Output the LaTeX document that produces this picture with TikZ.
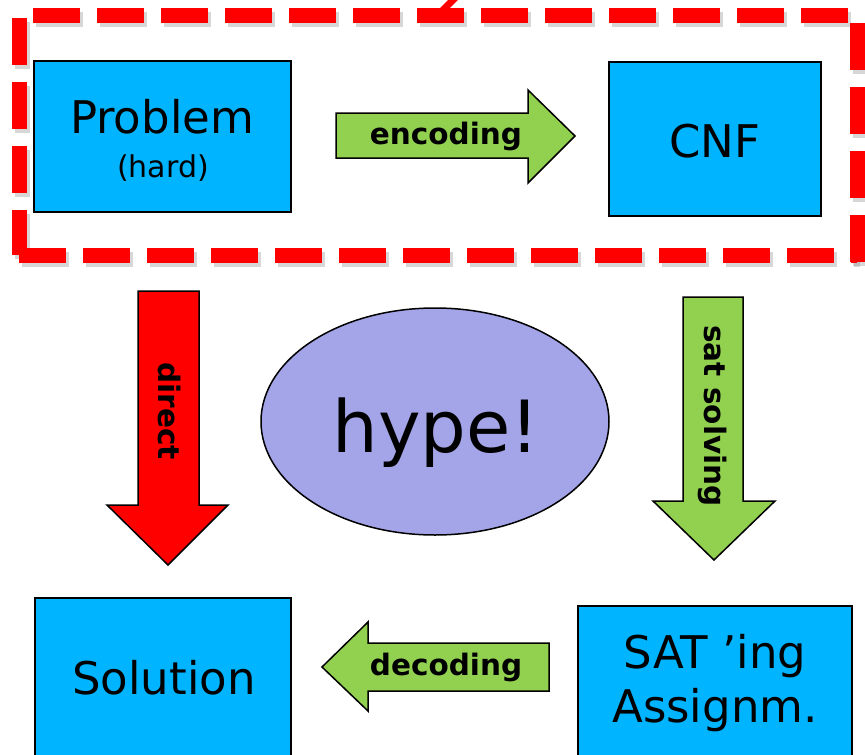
\documentclass[tikz,border=0pt]{standalone}
\usepackage{fontspec}
\setmainfont{DejaVu Sans}
\usetikzlibrary{shapes.geometric}
\definecolor{boxblue}{HTML}{00B4FF}
\definecolor{arrgreen}{HTML}{92D050}
\definecolor{ellcol}{HTML}{A4A4E8}
\tikzset{
  box/.style={draw=black, line width=1.8pt, fill=boxblue, inner sep=0pt},
  txt/.style={inner sep=0pt, font=\fontsize{45}{52}\selectfont},
  lbl/.style={inner sep=0pt, font=\fontsize{29.5}{32}\selectfont\bfseries},
  garrow/.style={draw=black, line width=1.5pt, fill=arrgreen, line join=miter},
  rarrow/.style={draw=black, line width=1.5pt, fill=red, line join=miter},
  reddash/.style={draw=red, line width=15pt, dash pattern=on 47pt off 17pt},
  shadowdash/.style={draw=black!45, opacity=0.35, line width=15pt, dash pattern=on 47pt off 17pt},
}
\begin{document}
\begin{tikzpicture}[x=1pt,y=-1pt]
\useasboundingbox (0,0) rectangle (865,755);
\clip (0,0) rectangle (865,755);
% nodes
\node[box, minimum width=257pt, minimum height=151pt] (problem) at (162.5,136.5) {};
\node[txt, anchor=base] (problemlbl) at (162,133) {Problem};
\node[inner sep=0pt, anchor=base, font=\fontsize{30}{34}\selectfont] (hardlbl) at (163,177) {(hard)};
\node[box, minimum width=212pt, minimum height=154pt] (cnf) at (715,139) {};
\node[txt, anchor=base] (cnflbl) at (715,157) {CNF};
\node[box, minimum width=256pt, minimum height=180pt] (solution) at (163,688) {};
\node[txt, anchor=base] (solutionlbl) at (164,694) {Solution};
\node[box, minimum width=274pt, minimum height=180pt] (sat) at (715,696) {};
\node[txt, anchor=base] (satl1) at (715,668) {SAT ’ing};
\node[txt, anchor=base] (satl2) at (715,722) {Assignm.};
\node[ellipse, draw=black, line width=1.5pt, fill=ellcol, minimum width=348pt, minimum height=227pt, inner sep=0pt] (hype) at (435,421.5) {};
\node[inner sep=0pt, anchor=base, font=\fontsize{72}{80}\selectfont] (hypelbl) at (436,452) {hype!};
% red dashed frame (shadow then frame)
\begin{scope}[shift={(3,4)}]
\draw[shadowdash, dash phase=50pt] (19,15) -- (857,15);
\draw[shadowdash, dash phase=61pt] (19,15) -- (19,255);
\draw[shadowdash, dash phase=0pt] (19,255) -- (857,255);
\draw[shadowdash, dash phase=56pt] (857,15) -- (857,262);
\end{scope}
\draw[reddash, dash phase=50pt] (19,15) -- (857,15);
\draw[reddash, dash phase=61pt] (19,15) -- (19,255);
\draw[reddash, dash phase=0pt] (19,255) -- (857,255);
\draw[reddash, dash phase=56pt] (857,15) -- (857,262);
\draw[red, line width=7pt] (441,12) -- (457,-4);
% arrows
\draw[garrow] (336,113) -- (528,113) -- (528,90) -- (575,136) -- (528,183) -- (528,158) -- (336,158) -- cycle;
\node[lbl] (enclbl) at (446,136) {encoding};
\draw[garrow] (683,297) -- (743,297) -- (743,501) -- (775,501) -- (714,560) -- (653,501) -- (683,501) -- cycle;
\node[lbl, rotate=-90] (satsolvlbl) at (713,416) {sat solving};
\draw[rarrow] (138,291) -- (199,291) -- (199,505) -- (228,505) -- (168,565) -- (107,505) -- (138,505) -- cycle;
\node[lbl, rotate=-90] (directlbl) at (169,411) {direct};
\draw[garrow] (549,643) -- (368,643) -- (368,622) -- (322,667) -- (368,711) -- (368,691) -- (549,691) -- cycle;
\node[lbl] (declbl) at (446,667) {decoding};
\end{tikzpicture}
\end{document}
